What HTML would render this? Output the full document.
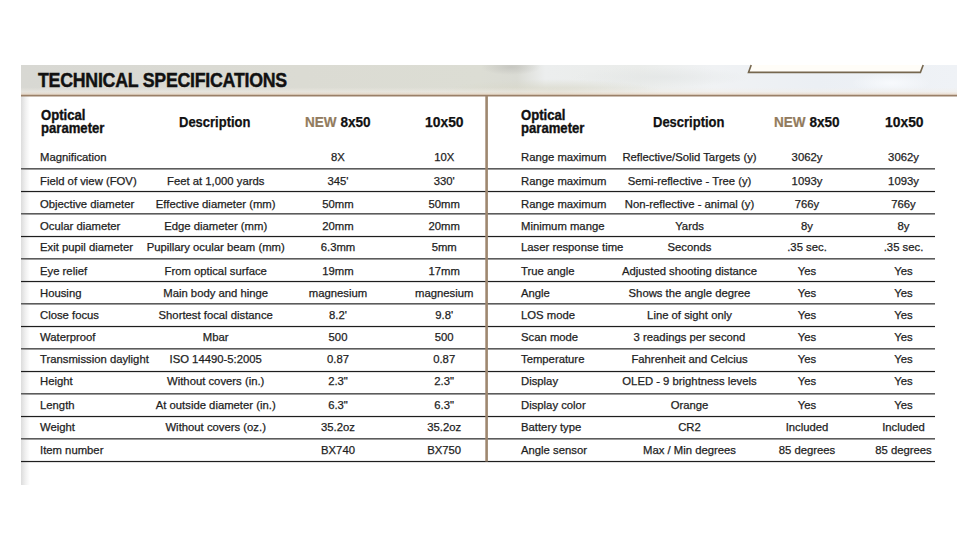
<!DOCTYPE html>
<html><head><meta charset="utf-8"><style>
html,body{margin:0;padding:0;background:#fff;}
body{width:978px;height:550px;position:relative;overflow:hidden;font-family:"Liberation Sans",sans-serif;}
.t{position:absolute;font-size:11.3px;line-height:14px;color:#1e1e1e;white-space:nowrap;-webkit-text-stroke:0.25px #1e1e1e;}
.c{width:160px;text-align:center;}
.hd{position:absolute;height:1px;background:#1e1e1e;box-shadow:0 1px 0 rgba(0,0,0,0.12),0 -1px 0 rgba(0,0,0,0.08);}
.hg{position:absolute;height:1px;background:#5c5c5c;box-shadow:0 1px 0 #9a9a9a;}
#leftshade{position:absolute;left:21px;top:96px;width:9px;height:389px;background:linear-gradient(to right,#dcdcdc,#f2f2f2 55%,#fff);}
#header{position:absolute;left:21px;top:65px;width:936px;height:31px;
 background:linear-gradient(to bottom,rgba(255,255,255,0) 0%,rgba(255,255,255,0) 72%,rgba(242,238,232,0.5) 86%,rgba(232,210,188,0.85) 100%),
 radial-gradient(ellipse 30px 8px at 490px 2px,rgba(185,185,180,0.6),rgba(185,185,180,0)),
 radial-gradient(ellipse 110px 13px at 530px 27px,rgba(216,215,200,0.95),rgba(216,215,200,0)),
 radial-gradient(ellipse 90px 10px at 640px 12px,rgba(225,228,228,0.6),rgba(225,228,228,0)),
 radial-gradient(ellipse 40px 10px at 870px 18px,rgba(250,252,255,0.8),rgba(250,252,255,0)),
 linear-gradient(to right,#d8d8d3 0%,#dbdbd3 30%,#dcddd4 49%,#dadbd4 53%,#eceeee 56%,#eaecea 66%,#f0f2f4 74%,#ebeff4 85%,#eff2f6 100%);}
#title{position:absolute;left:37.5px;font-size:21px;font-weight:bold;letter-spacing:-0.3px;color:#111;line-height:28px;white-space:nowrap;-webkit-text-stroke:0.45px #111;transform:scaleX(0.846);transform-origin:0 0;}
#divider{position:absolute;left:485.2px;top:96px;width:3px;height:366px;background:#94795e;}
.h{position:absolute;font-weight:bold;color:#111;white-space:nowrap;-webkit-text-stroke:0.25px #111;}
.new{color:#927b5d;-webkit-text-stroke:0.2px #927b5d;}
</style></head><body>
<div id="leftshade"></div>
<div id="header"></div>
<svg style="position:absolute;left:0;top:0" width="978" height="100"><path d="M751.2 65 L748.5 72.4 L920.4 72.4 L923.2 65 Z" fill="#fffdf8" stroke="none"/><path d="M751.2 65 L748.5 72.4 L920.4 72.4 L923.2 65" fill="none" stroke="#76674f" stroke-width="1.6"/><path d="M21 95.6H957" stroke="#9a8068" stroke-width="1.6"/></svg>
<div id="title" style="top:66.32px">TECHNICAL SPECIFICATIONS</div>
<div class="hg" style="left:21px;width:466px;top:168px"></div><div class="hg" style="left:487px;width:447.5px;top:168px"></div><div class="hd" style="left:21px;width:466px;top:191px"></div><div class="hd" style="left:487px;width:447.5px;top:191px"></div><div class="hg" style="left:21px;width:466px;top:213px"></div><div class="hg" style="left:487px;width:447.5px;top:213px"></div><div class="hd" style="left:21px;width:466px;top:236px"></div><div class="hd" style="left:487px;width:447.5px;top:236px"></div><div class="hg" style="left:21px;width:466px;top:258px"></div><div class="hg" style="left:487px;width:447.5px;top:258px"></div><div class="hd" style="left:21px;width:466px;top:281px"></div><div class="hd" style="left:487px;width:447.5px;top:281px"></div><div class="hg" style="left:21px;width:466px;top:303px"></div><div class="hg" style="left:487px;width:447.5px;top:303px"></div><div class="hd" style="left:21px;width:466px;top:326px"></div><div class="hd" style="left:487px;width:447.5px;top:326px"></div><div class="hg" style="left:21px;width:466px;top:348px"></div><div class="hg" style="left:487px;width:447.5px;top:348px"></div><div class="hd" style="left:21px;width:466px;top:371px"></div><div class="hd" style="left:487px;width:447.5px;top:371px"></div><div class="hg" style="left:21px;width:466px;top:393px"></div><div class="hg" style="left:487px;width:447.5px;top:393px"></div><div class="hd" style="left:21px;width:466px;top:416px"></div><div class="hd" style="left:487px;width:447.5px;top:416px"></div><div class="hg" style="left:21px;width:466px;top:438px"></div><div class="hg" style="left:487px;width:447.5px;top:438px"></div><div class="hd" style="left:21px;width:466px;top:461px"></div><div class="hd" style="left:487px;width:447.5px;top:461px"></div>
<svg style="position:absolute;left:0;top:0" width="978" height="550"><path d="M486.6 96V461.6" stroke="#9e876f" stroke-width="2.6"/></svg>
<div class="h" style="left:41px;top:109.07px;font-size:13.8px;line-height:13.1px;transform:scaleX(0.95);transform-origin:0 0;-webkit-text-stroke:0.35px #111">Optical<br>parameter</div><div class="h" style="left:178.5px;top:113.64px;font-size:14.6px;line-height:16px;transform:scaleX(0.89);transform-origin:0 0">Description</div><div class="h" style="left:305px;top:113.64px;font-size:14.6px;line-height:16px;transform:scaleX(0.93);transform-origin:0 0"><span class="new">NEW</span> 8x50</div><div class="h" style="left:425.3px;top:113.64px;font-size:14.6px;line-height:16px;transform:scaleX(0.95);transform-origin:0 0">10x50</div><div class="h" style="left:521px;top:109.07px;font-size:13.8px;line-height:13.1px;transform:scaleX(0.95);transform-origin:0 0;-webkit-text-stroke:0.35px #111">Optical<br>parameter</div><div class="h" style="left:652.5px;top:113.64px;font-size:14.6px;line-height:16px;transform:scaleX(0.89);transform-origin:0 0">Description</div><div class="h" style="left:774.2px;top:113.64px;font-size:14.6px;line-height:16px;transform:scaleX(0.93);transform-origin:0 0"><span class="new">NEW</span> 8x50</div><div class="h" style="left:885.3px;top:113.64px;font-size:14.6px;line-height:16px;transform:scaleX(0.95);transform-origin:0 0">10x50</div>
<div class="t" style="left:40px;top:149.88px">Magnification</div><div class="t c" style="left:258.00px;top:149.88px">8X</div><div class="t c" style="left:364.20px;top:149.88px">10X</div><div class="t" style="left:40px;top:173.58px">Field of view (FOV)</div><div class="t c" style="left:135.70px;top:173.58px">Feet at 1,000 yards</div><div class="t c" style="left:258.00px;top:173.58px">345'</div><div class="t c" style="left:364.20px;top:173.58px">330'</div><div class="t" style="left:40px;top:196.68px">Objective diameter</div><div class="t c" style="left:135.70px;top:196.68px">Effective diameter (mm)</div><div class="t c" style="left:258.00px;top:196.68px">50mm</div><div class="t c" style="left:364.20px;top:196.68px">50mm</div><div class="t" style="left:40px;top:219.08px">Ocular diameter</div><div class="t c" style="left:135.70px;top:219.08px">Edge diameter (mm)</div><div class="t c" style="left:258.00px;top:219.08px">20mm</div><div class="t c" style="left:364.20px;top:219.08px">20mm</div><div class="t" style="left:40px;top:239.78px">Exit pupil diameter</div><div class="t c" style="left:135.70px;top:239.78px">Pupillary ocular beam (mm)</div><div class="t c" style="left:258.00px;top:239.78px">6.3mm</div><div class="t c" style="left:364.20px;top:239.78px">5mm</div><div class="t" style="left:40px;top:263.78px">Eye relief</div><div class="t c" style="left:135.70px;top:263.78px">From optical surface</div><div class="t c" style="left:258.00px;top:263.78px">19mm</div><div class="t c" style="left:364.20px;top:263.78px">17mm</div><div class="t" style="left:40px;top:285.88px">Housing</div><div class="t c" style="left:135.70px;top:285.88px">Main body and hinge</div><div class="t c" style="left:258.00px;top:285.88px">magnesium</div><div class="t c" style="left:364.20px;top:285.88px">magnesium</div><div class="t" style="left:40px;top:308.08px">Close focus</div><div class="t c" style="left:135.70px;top:308.08px">Shortest focal distance</div><div class="t c" style="left:258.00px;top:308.08px">8.2'</div><div class="t c" style="left:364.20px;top:308.08px">9.8'</div><div class="t" style="left:40px;top:330.48px">Waterproof</div><div class="t c" style="left:135.70px;top:330.48px">Mbar</div><div class="t c" style="left:258.00px;top:330.48px">500</div><div class="t c" style="left:364.20px;top:330.48px">500</div><div class="t" style="left:40px;top:351.78px">Transmission daylight</div><div class="t c" style="left:135.70px;top:351.78px">ISO 14490-5:2005</div><div class="t c" style="left:258.00px;top:351.78px">0.87</div><div class="t c" style="left:364.20px;top:351.78px">0.87</div><div class="t" style="left:40px;top:373.58px">Height</div><div class="t c" style="left:135.70px;top:373.58px">Without covers (in.)</div><div class="t c" style="left:258.00px;top:373.58px">2.3"</div><div class="t c" style="left:364.20px;top:373.58px">2.3"</div><div class="t" style="left:40px;top:397.58px">Length</div><div class="t c" style="left:135.70px;top:397.58px">At outside diameter (in.)</div><div class="t c" style="left:258.00px;top:397.58px">6.3"</div><div class="t c" style="left:364.20px;top:397.58px">6.3"</div><div class="t" style="left:40px;top:419.78px">Weight</div><div class="t c" style="left:135.70px;top:419.78px">Without covers (oz.)</div><div class="t c" style="left:258.00px;top:419.78px">35.2oz</div><div class="t c" style="left:364.20px;top:419.78px">35.2oz</div><div class="t" style="left:40px;top:442.68px">Item number</div><div class="t c" style="left:258.00px;top:442.68px">BX740</div><div class="t c" style="left:364.20px;top:442.68px">BX750</div><div class="t" style="left:521px;top:149.88px">Range maximum</div><div class="t c" style="left:609.50px;top:149.88px">Reflective/Solid Targets (y)</div><div class="t c" style="left:727.00px;top:149.88px">3062y</div><div class="t c" style="left:823.50px;top:149.88px">3062y</div><div class="t" style="left:521px;top:173.58px">Range maximum</div><div class="t c" style="left:609.50px;top:173.58px">Semi-reflective - Tree (y)</div><div class="t c" style="left:727.00px;top:173.58px">1093y</div><div class="t c" style="left:823.50px;top:173.58px">1093y</div><div class="t" style="left:521px;top:196.68px">Range maximum</div><div class="t c" style="left:609.50px;top:196.68px">Non-reflective - animal (y)</div><div class="t c" style="left:727.00px;top:196.68px">766y</div><div class="t c" style="left:823.50px;top:196.68px">766y</div><div class="t" style="left:521px;top:219.08px">Minimum mange</div><div class="t c" style="left:609.50px;top:219.08px">Yards</div><div class="t c" style="left:727.00px;top:219.08px">8y</div><div class="t c" style="left:823.50px;top:219.08px">8y</div><div class="t" style="left:521px;top:239.78px">Laser response time</div><div class="t c" style="left:609.50px;top:239.78px">Seconds</div><div class="t c" style="left:727.00px;top:239.78px">.35 sec.</div><div class="t c" style="left:823.50px;top:239.78px">.35 sec.</div><div class="t" style="left:521px;top:263.78px">True angle</div><div class="t c" style="left:609.50px;top:263.78px">Adjusted shooting distance</div><div class="t c" style="left:727.00px;top:263.78px">Yes</div><div class="t c" style="left:823.50px;top:263.78px">Yes</div><div class="t" style="left:521px;top:285.88px">Angle</div><div class="t c" style="left:609.50px;top:285.88px">Shows the angle degree</div><div class="t c" style="left:727.00px;top:285.88px">Yes</div><div class="t c" style="left:823.50px;top:285.88px">Yes</div><div class="t" style="left:521px;top:308.08px">LOS mode</div><div class="t c" style="left:609.50px;top:308.08px">Line of sight only</div><div class="t c" style="left:727.00px;top:308.08px">Yes</div><div class="t c" style="left:823.50px;top:308.08px">Yes</div><div class="t" style="left:521px;top:330.48px">Scan mode</div><div class="t c" style="left:609.50px;top:330.48px">3 readings per second</div><div class="t c" style="left:727.00px;top:330.48px">Yes</div><div class="t c" style="left:823.50px;top:330.48px">Yes</div><div class="t" style="left:521px;top:351.78px">Temperature</div><div class="t c" style="left:609.50px;top:351.78px">Fahrenheit and Celcius</div><div class="t c" style="left:727.00px;top:351.78px">Yes</div><div class="t c" style="left:823.50px;top:351.78px">Yes</div><div class="t" style="left:521px;top:373.58px">Display</div><div class="t c" style="left:609.50px;top:373.58px">OLED - 9 brightness levels</div><div class="t c" style="left:727.00px;top:373.58px">Yes</div><div class="t c" style="left:823.50px;top:373.58px">Yes</div><div class="t" style="left:521px;top:397.58px">Display color</div><div class="t c" style="left:609.50px;top:397.58px">Orange</div><div class="t c" style="left:727.00px;top:397.58px">Yes</div><div class="t c" style="left:823.50px;top:397.58px">Yes</div><div class="t" style="left:521px;top:419.78px">Battery type</div><div class="t c" style="left:609.50px;top:419.78px">CR2</div><div class="t c" style="left:727.00px;top:419.78px">Included</div><div class="t c" style="left:823.50px;top:419.78px">Included</div><div class="t" style="left:521px;top:442.68px">Angle sensor</div><div class="t c" style="left:609.50px;top:442.68px">Max / Min degrees</div><div class="t c" style="left:727.00px;top:442.68px">85 degrees</div><div class="t c" style="left:823.50px;top:442.68px">85 degrees</div>
</body></html>
